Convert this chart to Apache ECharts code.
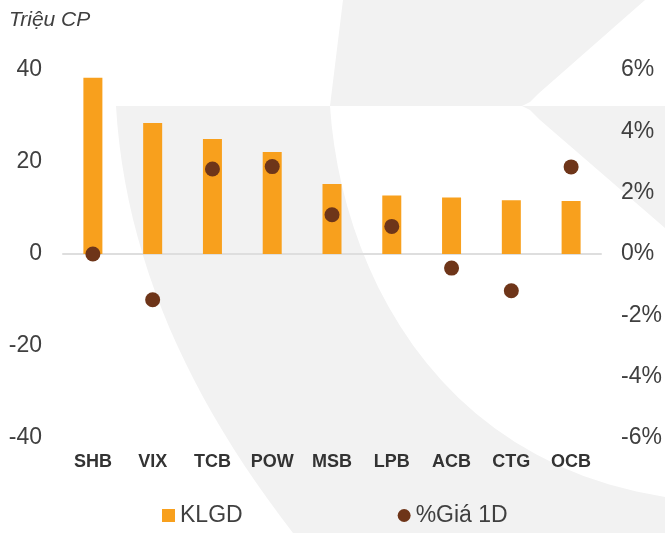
<!DOCTYPE html>
<html>
<head>
<meta charset="utf-8">
<script src="https://cdn.jsdelivr.net/npm/echarts@6/dist/echarts.min.js"></script>
<style>
  html, body { margin: 0; padding: 0; background: #fff; }
  #chart { width: 665px; height: 533px; }
</style>
</head>
<body>
<div id="chart"></div>
<script>
// dữ liệu
const categories = ['SHB', 'VIX', 'TCB', 'POW', 'MSB', 'LPB', 'ACB', 'CTG', 'OCB']
const klgd = [38.3, 28.5, 25.0, 22.2, 15.2, 12.7, 12.3, 11.7, 11.5]   // triệu CP
const giaPct = [0.0, -1.49, 2.77, 2.85, 1.28, 0.9, -0.46, -1.2, 2.84] // %

const FONT = '"Liberation Sans", Arial, sans-serif'
const ORANGE = '#F8A01D'
const BROWN = '#6E3519'
const WM = '#f2f2f2'

// đường cong bezier cho logo nền (chỉ trang trí)
const bez = (p0, p1, p2, p3, n = 24) => {
  const pts = []
  for (let i = 0; i <= n; i++) {
    const t = i / n, u = 1 - t
    pts.push([
      u * u * u * p0[0] + 3 * u * u * t * p1[0] + 3 * u * t * t * p2[0] + t * t * t * p3[0],
      u * u * u * p0[1] + 3 * u * u * t * p1[1] + 3 * u * t * t * p2[1] + t * t * t * p3[1]
    ])
  }
  return pts
}

const wmTop = [[343, 0], [645, 0], [538, 94], [530, 102], [522, 106], [330, 106]]
const wmBand = [[116, 106],
  ...bez([330, 106], [340, 260], [430, 460], [665, 497]),
  [665, 533],
  ...bez([293, 533], [190, 400], [125, 260], [116, 106])]
const wmRight = [[522, 106], [665, 106], [665, 228], [540, 120], [530, 110]]

const chart = echarts.init(document.getElementById('chart'))

chart.setOption({
  animation: false,
  textStyle: { fontFamily: FONT },
  graphic: [
    { type: 'polygon', z: -10, silent: true, shape: { points: wmTop }, style: { fill: WM } },
    { type: 'polygon', z: -10, silent: true, shape: { points: wmBand }, style: { fill: WM } },
    { type: 'polygon', z: -10, silent: true, shape: { points: wmRight }, style: { fill: WM } },
    { type: 'text', left: 9, top: 10,
      style: { text: 'Triệu CP', font: 'italic 21px "Liberation Sans", Arial, sans-serif', fill: '#404040' } }
  ],
  legend: {
    left: 162, top: 504, padding: 0,
    itemWidth: 13, itemHeight: 13, itemGap: 155,
    textStyle: { fontFamily: FONT, fontSize: 23, color: '#404040' },
    data: [{ name: 'KLGD', icon: 'rect' }, { name: '%Giá 1D', icon: 'circle' }]
  },
  grid: { left: 63, right: 64, top: 70, bottom: 95 },
  xAxis: [
    {
      type: 'category', data: categories,
      axisLine: { show: false }, axisTick: { show: false },
      axisLabel: { margin: 15, fontSize: 18, fontWeight: 'bold', color: '#333', fontFamily: FONT }
    },
    {
      type: 'category', data: categories,
      axisLine: { onZero: true, lineStyle: { color: '#dedede', width: 2 } },
      axisTick: { show: false }, axisLabel: { show: false }
    }
  ],
  yAxis: [
    {
      type: 'value', min: -40, max: 40, interval: 20,
      splitLine: { show: false }, axisLine: { show: false }, axisTick: { show: false },
      axisLabel: { margin: 21, fontSize: 23, color: '#404040', fontFamily: FONT }
    },
    {
      type: 'value', min: -6, max: 6, interval: 2,
      splitLine: { show: false }, axisLine: { show: false }, axisTick: { show: false },
      axisLabel: { margin: 20, fontSize: 23, color: '#404040', fontFamily: FONT, formatter: '{value}%' }
    }
  ],
  series: [
    {
      name: 'KLGD', type: 'bar', data: klgd,
      xAxisIndex: 0, yAxisIndex: 0, barWidth: 19,
      itemStyle: { color: ORANGE }
    },
    {
      name: '%Giá 1D', type: 'scatter', data: giaPct,
      xAxisIndex: 0, yAxisIndex: 1, symbolSize: 15, z: 5,
      itemStyle: { color: BROWN, opacity: 1 }
    }
  ]
})
</script>
</body>
</html>
